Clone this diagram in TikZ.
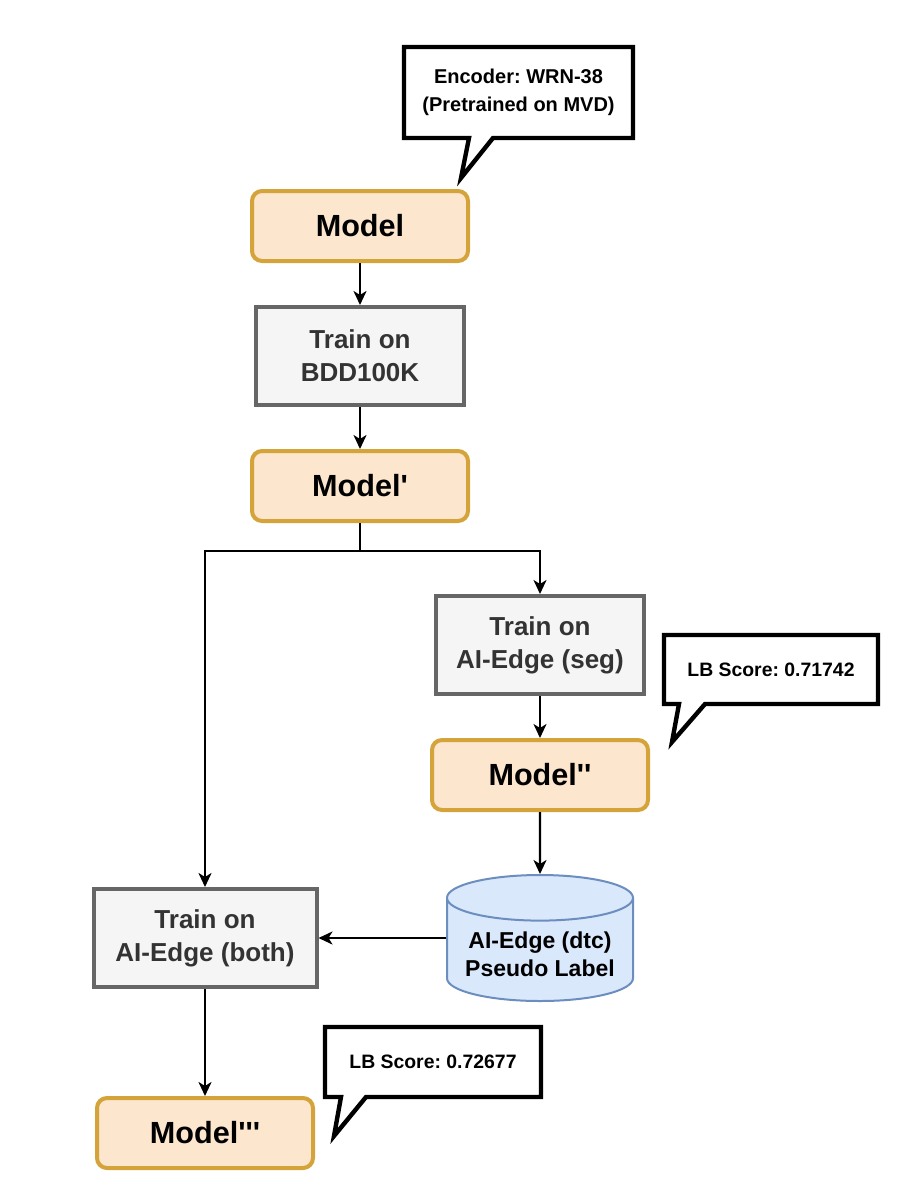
\documentclass[tikz,border=0pt]{standalone}
\usepackage{fontspec}
\newfontfamily\flowfont{Liberation Sans}
\usetikzlibrary{positioning,shapes.geometric,arrows.meta}
\definecolor{modelfill}{RGB}{252,230,205}
\definecolor{modeldraw}{RGB}{212,163,58}
\definecolor{trainfill}{RGB}{245,245,245}
\definecolor{traindraw}{RGB}{102,102,102}
\definecolor{dbfill}{RGB}{218,232,252}
\definecolor{dbdraw}{RGB}{108,142,191}
\frenchspacing

\begin{document}
\begin{tikzpicture}[x=0.5pt,y=-0.5pt,node distance=21pt,
  every node/.style={font=\flowfont\bfseries},
  model/.style={rectangle,rounded corners=5pt,draw=modeldraw,fill=modelfill,line width=2pt,minimum width=108pt,minimum height=35pt,font=\flowfont\fontsize{15.3}{18}\selectfont\bfseries},
  train/.style={rectangle,draw=traindraw,fill=trainfill,line width=2pt,minimum width=104pt,minimum height=49pt,align=center,text=black!80,font=\flowfont\fontsize{13}{16.5}\selectfont\bfseries},
  db/.style={cylinder,shape border rotate=90,aspect=0.28,draw=dbdraw,fill=dbfill,line width=1pt,minimum width=93pt,minimum height=63pt,align=center,font=\flowfont\fontsize{11.5}{13.8}\selectfont\bfseries},
  note/.style={rectangle,outer sep=0pt,inner sep=0pt,align=center,font=\flowfont\fontsize{9.7}{13.8}\selectfont\bfseries},
  bubble/.style={draw,fill=white,line width=2.2pt,miter limit=20},
  flow/.style={-{Stealth[length=7pt,width=6.5pt,inset=2pt]},line width=1.1pt}]
  \useasboundingbox (0,0) rectangle (922,1200);
  \node[model] (m0) at (360,226) {Model};
  \node[train,below=of m0] (t0) {Train on\\BDD100K};
  \node[model,below=of t0] (m1) {Model'};
  \node[train] (t1) at (540,645) {Train on\\AI-Edge (seg)};
  \node[model,below=of t1] (m2) {Model''};
  \node[db,anchor=shape center] (db) at (540,938) {AI-Edge (dtc)\\Pseudo Label};
  \node[train,minimum width=111.5pt] (t2) at (205,938) {Train on\\AI-Edge (both)};
  \node[model,below=53.5pt of t2] (m3) {Model'''};
  \node[note,minimum width=114.5pt,minimum height=45.5pt] (n0) at (518.5,92.5) {};
  \node[note,minimum width=107pt,minimum height=34.5pt] (n1) at (771,669.5) {};
  \node[note,minimum width=108pt,minimum height=35pt] (n2) at (433,1062) {};
  \coordinate (tip0) at (461,178);
  \coordinate (tip1) at (672,742);
  \coordinate (tip2) at (334,1136);
  \draw[bubble] (n0.north west) -- (n0.north east) -- (n0.south east) -- ([xshift=44.5pt]n0.south west) -- (tip0) -- ([xshift=32.5pt]n0.south west) -- (n0.south west) -- cycle;
  \draw[bubble] (n1.north west) -- (n1.north east) -- (n1.south east) -- ([xshift=20.5pt]n1.south west) -- (tip1) -- ([xshift=7.5pt]n1.south west) -- (n1.south west) -- cycle;
  \draw[bubble] (n2.north west) -- (n2.north east) -- (n2.south east) -- ([xshift=20.5pt]n2.south west) -- (tip2) -- ([xshift=8pt]n2.south west) -- (n2.south west) -- cycle;
  \node[note,font=\flowfont\fontsize{10}{13.8}\selectfont\bfseries] at (n0) {Encoder: WRN-38\\(Pretrained on MVD)};
  \node[note] at (n1) {LB Score: 0.71742};
  \node[note] at (n2) {LB Score: 0.72677};
  \coordinate[below=14pt of m1.south] (split);
  \draw[flow] (m0) -- (t0);
  \draw[flow] (t0) -- (m1);
  \draw[line width=1.1pt] (m1) -- (split);
  \draw[flow] (split) -| (t2);
  \draw[flow] (split) -| (t1);
  \draw[flow] (t1) -- (m2);
  \draw[flow] (m2) -- (db);
  \draw[flow] (db.shape center -| db.west) -- (t2.east);
  \draw[flow] (t2) -- (m3);
\end{tikzpicture}
\end{document}
